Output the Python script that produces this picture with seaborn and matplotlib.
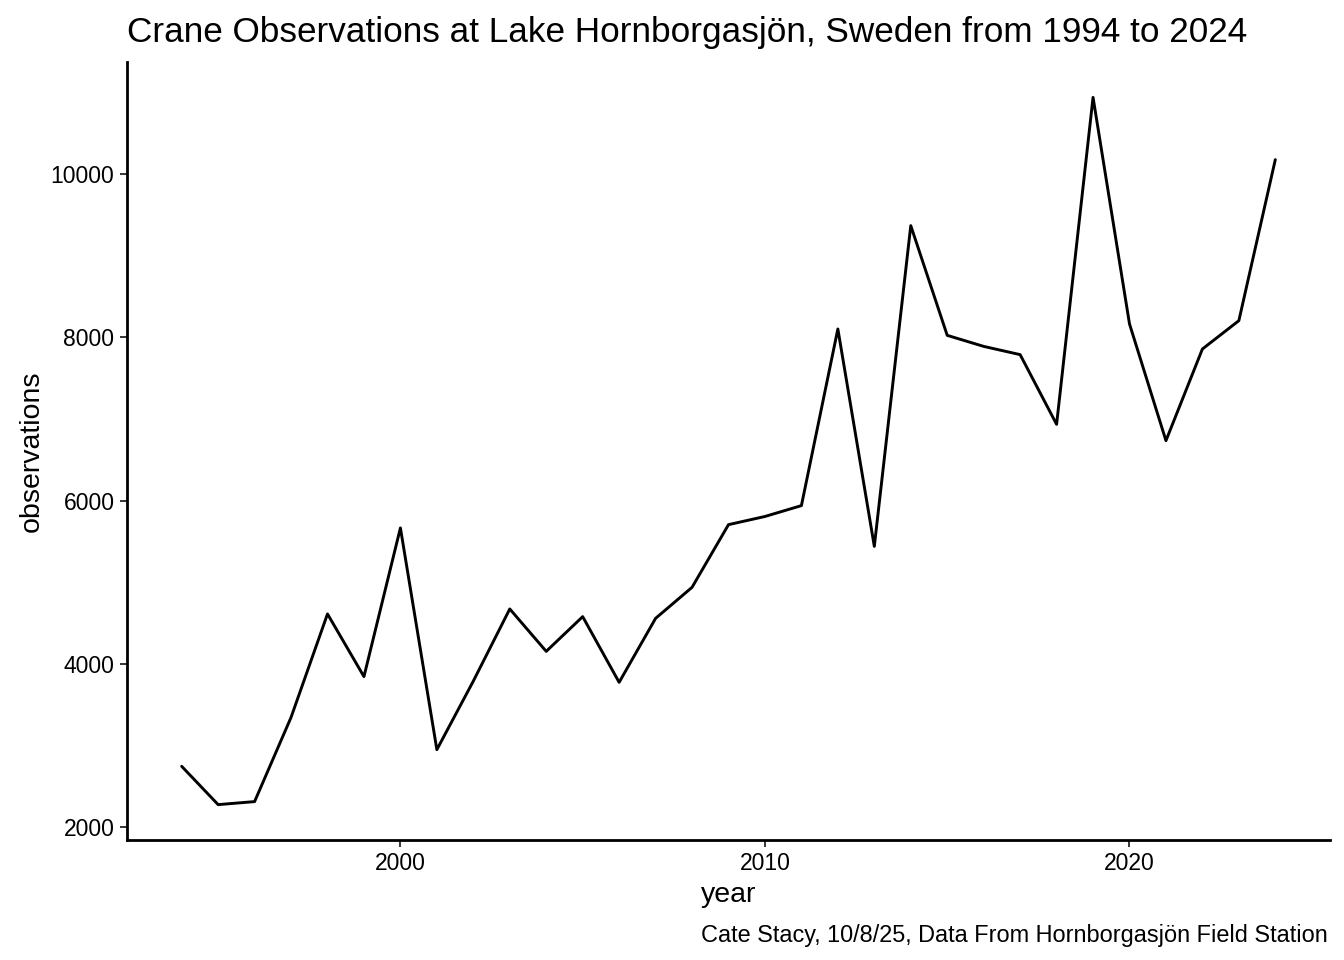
'''
Crane observations line chart (ggplot theme_classic look)
'''

import matplotlib
matplotlib.use('Agg')
import matplotlib.pyplot as plt
import seaborn as sns
import pandas as pd

# data
years = list(range(1994, 2025))
observations = [2747, 2278, 2315, 3346, 4612, 3845, 5665, 2951, 3790, 4673,
                4154, 4579, 3775, 4558, 4938, 5705, 5805, 5938, 8100, 5439,
                9365, 8022, 7887, 7786, 6933, 10935, 8162, 6733, 7855, 8202,
                10173]

title = 'Crane Observations at Lake Hornborgasjön, Sweden from 1994 to 2024'
caption = 'Cate Stacy, 10/8/25, Data From Hornborgasjön Field Station'

df = pd.DataFrame({'year': years, 'observations': observations})

# 스타일
sns.set_style('ticks')
plt.rcParams['font.family'] = ['Liberation Sans', 'DejaVu Sans']
plt.rcParams['text.color'] = 'black'
plt.rcParams['axes.labelcolor'] = 'black'

W, H = 1344, 960
fig = plt.figure(figsize=(W / 100, H / 100), dpi=100)
ax = fig.add_axes([127 / W, 1 - 840 / H, (1330 - 127) / W, (840 - 62) / H])

sns.lineplot(x='year', y='observations', data=df, color='black',
             linewidth=2.1, ax=ax)

ax.set_xlim(1992.5, 2025.5)
ax.set_ylim(1845, 11368)
ax.set_xticks([2000, 2010, 2020])
ax.set_yticks([2000, 4000, 6000, 8000, 10000])

for side in ['top', 'right']:
    ax.spines[side].set_visible(False)
for side in ['left', 'bottom']:
    ax.spines[side].set_linewidth(2.0)
    ax.spines[side].set_color('black')

ax.tick_params(axis='both', length=5, width=1.1, color='black',
               labelsize=16.5, labelcolor='black', pad=4)

ax.set_xlabel('year', fontsize=20.5, labelpad=5)
ax.set_ylabel('observations', fontsize=20.5, labelpad=4)

fig.text(127 / W, 1 - 42 / H, title, fontsize=25.3, ha='left', va='baseline')
fig.text(1328 / W, 1 - 942 / H, caption, fontsize=16.9, ha='right',
         va='baseline')

fig.savefig('out.png', dpi=100)
